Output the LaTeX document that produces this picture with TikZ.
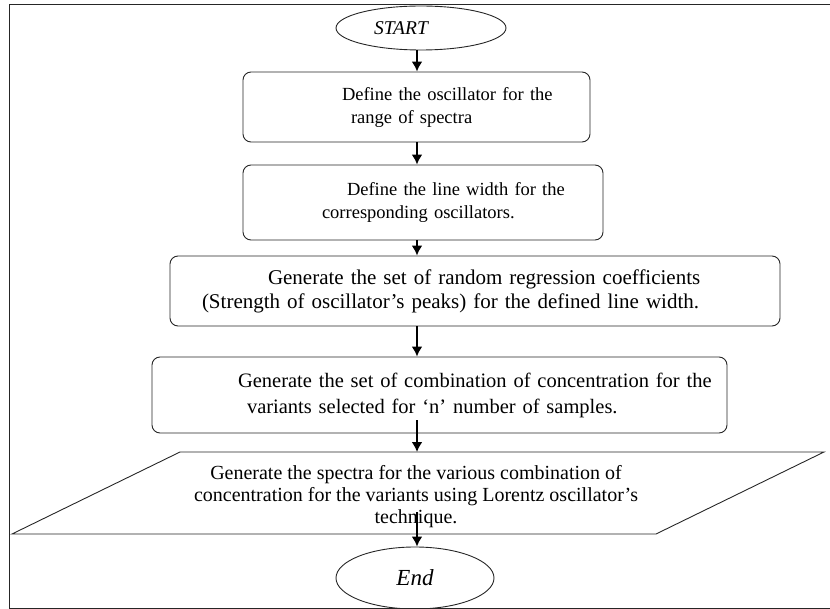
\documentclass[tikz,border=0pt]{standalone}
\usepackage{fontspec}
\setmainfont{Liberation Serif}
\usetikzlibrary{arrows.meta,shapes.geometric}
\tikzstyle{terminal}=[ellipse, draw=black!85, line width=0.9pt, inner sep=0pt]
\tikzstyle{process}=[rectangle, rounded corners=8pt, draw=black!85, line width=0.9pt, inner xsep=0pt, align=left, font=\fontsize{18.5}{23}\selectfont]
\tikzstyle{arrow}=[draw=black, line width=2.4pt, -{Latex[length=10pt,width=11pt]}]

\begin{document}
\begin{tikzpicture}[x=1pt,y=-1pt]
	\useasboundingbox (0,0) rectangle (830,609);
	\draw[black!85, line width=0.9pt] (830,4) -- (9,4) -- (9,608) -- (830,608);
	\begin{scope}
		\coordinate (axis) at (417,0);
		\node (start) at (421,28)[terminal, minimum width=170pt, minimum height=44pt] {\fontsize{19.5}{22}\selectfont\itshape START\hspace*{40pt}};
		\node (b1) at (416.5,107)[process, text width=347pt, minimum height=70pt] {
			\hspace*{99pt}Define the oscillator for the\\
			\hspace*{108pt}range of spectra};
		\node (b2) at (423,202.5)[process, text width=360pt, minimum height=75pt] {
			\hspace*{104pt}Define the line width for the\\
			\hspace*{79pt}corresponding oscillators.};
		\node (b3) at (475,291)[process, text width=610pt, minimum height=70pt, font=\fontsize{21}{24}\selectfont] {
			\hspace*{98pt}Generate the set of random regression coefficients\\
			\hspace*{32pt}(Strength of oscillator's peaks) for the defined line width.};
		\node (b4) at (439.5,395)[process, text width=575pt, minimum height=76pt, font=\fontsize{20.5}{26}\selectfont] {
			\hspace*{86pt}Generate the set of combination of concentration for the\\
			\hspace*{95pt}variants selected for `n' number of samples.};
		\draw[black!85, line width=0.9pt] (180,452) -- (824,452) -- (656,534) -- (12,534) -- cycle;
		\node (io) at (416,497)[align=center, font=\fontsize{20}{22}\selectfont] {
			Generate the spectra for the various combination of\\
			concentration for the variants using Lorentz oscillator's\\
			technique.};
		\coordinate (iotop) at (417,452);
		\coordinate (iotext) at (417,512);
		\node (end) at (415,578)[terminal, minimum width=158pt, minimum height=62pt] {\fontsize{23}{26}\selectfont\itshape End};
	\end{scope}
	\begin{scope}
		\draw [arrow] (axis |- start.south) -- (axis |- b1.north);
		\draw [arrow] (axis |- b1.south) -- (axis |- b2.north);
		\draw [arrow] (axis |- b2.south) -- (axis |- b3.north);
		\draw [arrow] (axis |- b3.south) -- (axis |- b4.north);
		\draw [arrow] ([yshift=13pt]axis |- b4.south) -- (iotop);
		\draw [arrow] (iotext) -- (axis |- end.north);
	\end{scope}
\end{tikzpicture}
\end{document}
